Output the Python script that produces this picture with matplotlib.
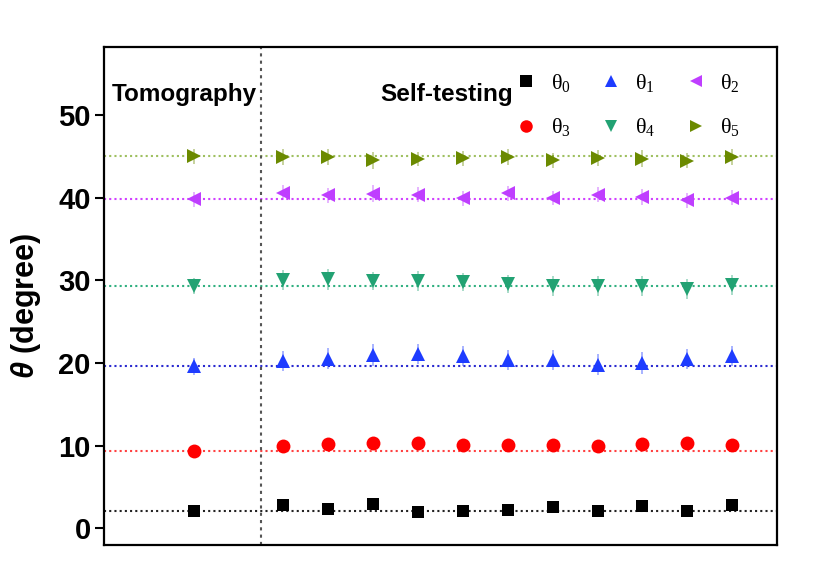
import matplotlib.pyplot as plt

# ---------------------------------------------------------
# Data (degrees)
# ---------------------------------------------------------
x_tomo = [0]
x_self = [2, 3, 4, 5, 6, 7, 8, 9, 10, 11, 12]
divider_x = 1.5

tomo_vals = [2.1, 9.3, 19.6, 29.3, 39.8, 45.0]
tomo_errs = [0.5, 0.5, 1.0, 1.0, 0.9, 0.9]

theta0 = [2.86, 2.38, 2.94, 2.02, 2.14, 2.21, 2.57, 2.14, 2.74, 2.09, 2.78]
theta1 = [20.2, 20.5, 20.98, 21.1, 20.86, 20.37, 20.37, 19.8, 20.0, 20.47, 20.8]
theta2 = [40.6, 40.25, 40.46, 40.34, 39.9, 40.5, 39.94, 40.34, 40.06, 39.65, 39.98]
theta3 = [10.02, 10.18, 10.27, 10.35, 10.11, 10.14, 10.14, 10.02, 10.18, 10.27, 10.11]
theta4 = [30.03, 30.13, 29.93, 29.89, 29.79, 29.5, 29.33, 29.27, 29.29, 28.9, 29.47]
theta5 = [44.9, 44.9, 44.5, 44.65, 44.72, 44.9, 44.5, 44.77, 44.69, 44.44, 44.9]

err0 = [0.5] * 11
err1 = [1.2, 1.25, 1.3, 1.2, 1.2, 1.2, 1.2, 1.25, 1.3, 1.25, 1.2]
err2 = [0.95, 0.9, 1.0, 0.9, 0.9, 0.95, 0.9, 0.9, 0.95, 0.9, 0.9]
err3 = [0.5] * 11
err4 = [1.2, 1.25, 1.1, 1.2, 1.1, 1.1, 1.2, 1.2, 1.2, 1.2, 1.2]
err5 = [1.0, 1.0, 1.0, 0.9, 0.9, 1.0, 0.9, 1.0, 1.0, 0.9, 1.0]

self_vals = [theta0, theta1, theta2, theta3, theta4, theta5]
self_errs = [err0, err1, err2, err3, err4, err5]

labels = ['θ$_{\\mathregular{%d}}$' % i for i in range(6)]
markers = ['s', '^', '<', 'o', 'v', '>']
marker_colors = ['#000000', '#1e3cff', '#bf3eff', '#ff0000', '#22a273', '#6b8a00']
line_colors = ['#222222', '#2a2ad0', '#d040ff', '#ff4040', '#30b080', '#9fc060']
marker_sizes = [9, 10, 10, 10, 10, 10]
tomo_index = [0, 3, 1, 4, 2, 5]  # tomo_vals order: theta0, theta3, theta1, theta4, theta2, theta5

# ---------------------------------------------------------
# Plot
# ---------------------------------------------------------
plt.rcParams['font.family'] = ['Liberation Sans', 'DejaVu Sans']
plt.rcParams['mathtext.fontset'] = 'custom'
plt.rcParams['mathtext.it'] = 'Liberation Sans:italic:bold'

fig = plt.figure(figsize=(8.3, 5.87), dpi=100)
ax = fig.add_axes([0.1253, 0.0716, 0.8108, 0.8484])

handles = []
for i in range(6):
    t = tomo_vals[tomo_index.index(i)]
    te = tomo_errs[tomo_index.index(i)]
    ax.axhline(t, color=line_colors[i], linestyle=(0, (1, 1.5)), linewidth=1.5, zorder=1)
    ax.errorbar(x_tomo + x_self, [t] + self_vals[i], yerr=[te] + self_errs[i],
                fmt='none', ecolor=marker_colors[i], elinewidth=1.2, alpha=0.45, zorder=2)
    h, = ax.plot(x_tomo + x_self, [t] + self_vals[i], linestyle='none',
                 marker=markers[i], markersize=marker_sizes[i],
                 color=marker_colors[i], markeredgewidth=0, label=labels[i], zorder=3)
    handles.append(h)

ax.axvline(divider_x, color='#555555', linestyle=(0, (1.5, 2)), linewidth=1.5, zorder=1)

ax.set_xlim(-2, 13)
ax.set_ylim(-2, 58.2)
ax.set_xticks([])
ax.set_yticks([0, 10, 20, 30, 40, 50])
ax.tick_params(axis='y', direction='out', length=6.5, width=1.5, pad=3, labelsize=21)
for lab in ax.get_yticklabels():
    lab.set_fontweight('bold')
for s in ax.spines.values():
    s.set_linewidth(1.6)

ax.set_ylabel(r'$\theta$ (degree)', fontsize=22, fontweight='bold')
ax.yaxis.set_label_coords(-0.09, 0.48)

ax.text(0.012, 0.904, 'Tomography', transform=ax.transAxes, fontsize=17.5,
        fontweight='bold', va='center', ha='left')
ax.text(0.411, 0.904, 'Self-testing', transform=ax.transAxes, fontsize=17.5,
        fontweight='bold', va='center', ha='left')

order = [0, 3, 1, 4, 2, 5]
ax.legend([handles[k] for k in order], [labels[k] for k in order],
          ncol=3, frameon=False, loc='upper right', bbox_to_anchor=(0.975, 0.99),
          prop={'family': 'Liberation Serif', 'size': 16},
          handletextpad=0.6, columnspacing=1.3, labelspacing=1.0,
          handlelength=1.0, markerscale=0.9)

fig.savefig('out.png', dpi=100)
